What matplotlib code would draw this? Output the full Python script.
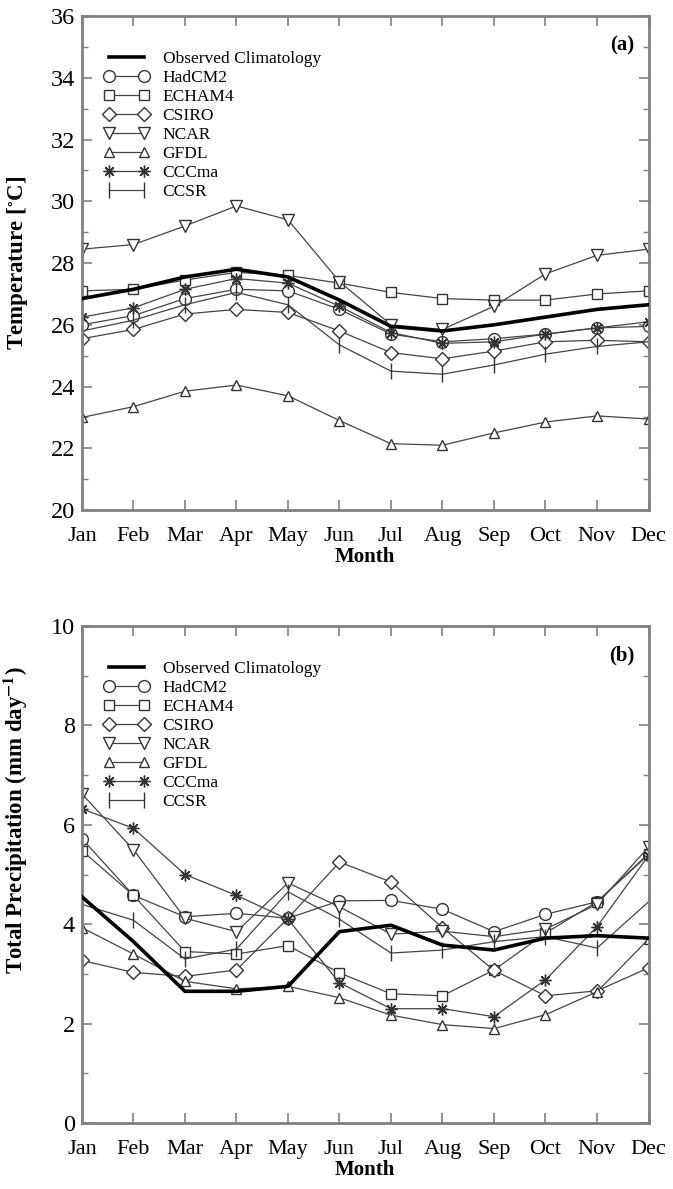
import matplotlib
matplotlib.use("Agg")
import matplotlib.pyplot as plt
from matplotlib.ticker import MultipleLocator
import numpy as np

months = ['Jan', 'Feb', 'Mar', 'Apr', 'May', 'Jun', 'Jul', 'Aug', 'Sep', 'Oct', 'Nov', 'Dec']
models = ['HadCM2', 'ECHAM4', 'CSIRO', 'NCAR', 'GFDL', 'CCCma', 'CCSR']

# panel (a): temperature, deg C
temp_obs = [26.85, 27.15, 27.55, 27.8, 27.55, 26.8, 25.95, 25.8, 26.0, 26.25, 26.5, 26.65]
temp_hadcm2 = [26.0, 26.3, 26.85, 27.15, 27.1, 26.5, 25.7, 25.45, 25.55, 25.7, 25.9, 25.95]
temp_echam4 = [27.1, 27.15, 27.45, 27.7, 27.6, 27.35, 27.05, 26.85, 26.8, 26.8, 27.0, 27.1]
temp_csiro = [25.55, 25.85, 26.35, 26.5, 26.4, 25.8, 25.1, 24.9, 25.15, 25.45, 25.5, 25.45]
temp_ncar = [28.45, 28.6, 29.2, 29.85, 29.4, 27.4, 26.0, 25.85, 26.6, 27.65, 28.25, 28.45]
temp_gfdl = [23.0, 23.35, 23.85, 24.05, 23.7, 22.9, 22.15, 22.1, 22.5, 22.85, 23.05, 22.95]
temp_cccma = [26.25, 26.55, 27.15, 27.5, 27.35, 26.6, 25.75, 25.4, 25.45, 25.7, 25.9, 26.1]
temp_ccsr = [25.8, 26.15, 26.65, 27.05, 26.65, 25.35, 24.5, 24.4, 24.7, 25.05, 25.3, 25.45]

# panel (b): total precipitation, mm/day
prec_obs = [4.55, 3.65, 2.65, 2.65, 2.75, 3.85, 3.98, 3.58, 3.48, 3.72, 3.77, 3.72]
prec_hadcm2 = [5.72, 4.58, 4.15, 4.22, 4.12, 4.47, 4.48, 4.3, 3.85, 4.2, 4.45, 5.4]
prec_echam4 = [5.48, 4.58, 3.45, 3.4, 3.57, 3.02, 2.6, 2.56, 3.08, 3.82, 4.45, 5.42]
prec_csiro = [3.27, 3.03, 2.95, 3.08, 4.12, 5.25, 4.85, 3.93, 3.07, 2.56, 2.66, 3.12]
prec_ncar = [6.62, 5.5, 4.12, 3.85, 4.83, 4.35, 3.8, 3.86, 3.75, 3.9, 4.4, 5.55]
prec_gfdl = [3.93, 3.4, 2.85, 2.7, 2.75, 2.52, 2.17, 1.98, 1.9, 2.18, 2.64, 3.7]
prec_cccma = [6.32, 5.93, 5.0, 4.58, 4.1, 2.82, 2.3, 2.3, 2.14, 2.88, 3.95, 5.38]
prec_ccsr = [4.4, 4.08, 3.3, 3.5, 4.65, 4.1, 3.42, 3.48, 3.65, 3.75, 3.52, 4.45]

temp_models = [temp_hadcm2, temp_echam4, temp_csiro, temp_ncar, temp_gfdl, temp_cccma, temp_ccsr]
prec_models = [prec_hadcm2, prec_echam4, prec_csiro, prec_ncar, prec_gfdl, prec_cccma, prec_ccsr]

marker_styles = ['o', 's', 'D', 'v', '^', (8, 2, 0), '|']
marker_sizes = [8.5, 7, 7, 8.5, 7, 8.5, 11]

plt.rcParams['font.family'] = ['Liberation Serif', 'DejaVu Serif']
plt.rcParams['mathtext.fontset'] = 'stix'

spine_col = '#808080'
line_col = '#444444'

fig = plt.figure(figsize=(6.73, 11.89), dpi=100)
ax_a = fig.add_axes([0.1218, 0.571, 0.8418, 0.4155])
ax_b = fig.add_axes([0.1218, 0.0555, 0.8418, 0.418])

x = np.arange(len(months))


def draw_panel(ax, obs, series, ylim, ymajor, ylabel, label_y, tag):
    ax.plot(x, obs, color='black', lw=2.6, label='Observed Climatology', zorder=5)
    for name, vals, m, ms in zip(models, series, marker_styles, marker_sizes):
        face = 'black' if name == 'CCCma' else 'white'
        ax.plot(x, vals, color=line_col, lw=0.9, marker=m, markersize=ms,
                markerfacecolor=face, markeredgecolor='#333333',
                markeredgewidth=1.0, label=name)
    ax.set_xlim(0, 11)
    ax.set_ylim(*ylim)
    ax.set_xticks(x)
    ax.set_xticklabels(months, fontsize=16)
    ax.yaxis.set_major_locator(MultipleLocator(ymajor))
    ax.yaxis.set_minor_locator(MultipleLocator(ymajor / 2))
    ax.tick_params(axis='y', which='major', labelsize=17.5, direction='in',
                   length=7, width=1.2, color=spine_col, right=True, pad=5)
    ax.tick_params(axis='y', which='minor', direction='in', length=4,
                   width=1.0, color=spine_col, right=True)
    ax.tick_params(axis='x', direction='in', length=7, width=1.2,
                   color=spine_col, top=True, pad=12)
    for s in ax.spines.values():
        s.set_color(spine_col)
        s.set_linewidth(2.0)
    ax.set_xlabel('Month', fontsize=15, fontweight='bold', labelpad=1)
    ax.set_ylabel(ylabel, fontsize=16.5, fontweight='bold')
    ax.yaxis.set_label_coords(-0.092, label_y)
    ax.text(0.975, 0.94, tag, transform=ax.transAxes, ha='right', va='center',
            fontsize=15, fontweight='bold')
    leg = ax.legend(loc='upper left', bbox_to_anchor=(0.02, 0.95), frameon=False,
                    fontsize=12.5, numpoints=2, handlelength=2.6, handletextpad=0.8,
                    labelspacing=0.16, borderaxespad=0.2)
    return leg


draw_panel(ax_a, temp_obs, temp_models, (20, 36), 2,
           'Temperature [$^{\\circ}$C]', 0.5, '(a)')
draw_panel(ax_b, prec_obs, prec_models, (0, 10), 2,
           'Total Precipitation (mm day$^{\\mathbf{-1}}$)', 0.61, '(b)')

fig.savefig('out.png', dpi=100)
